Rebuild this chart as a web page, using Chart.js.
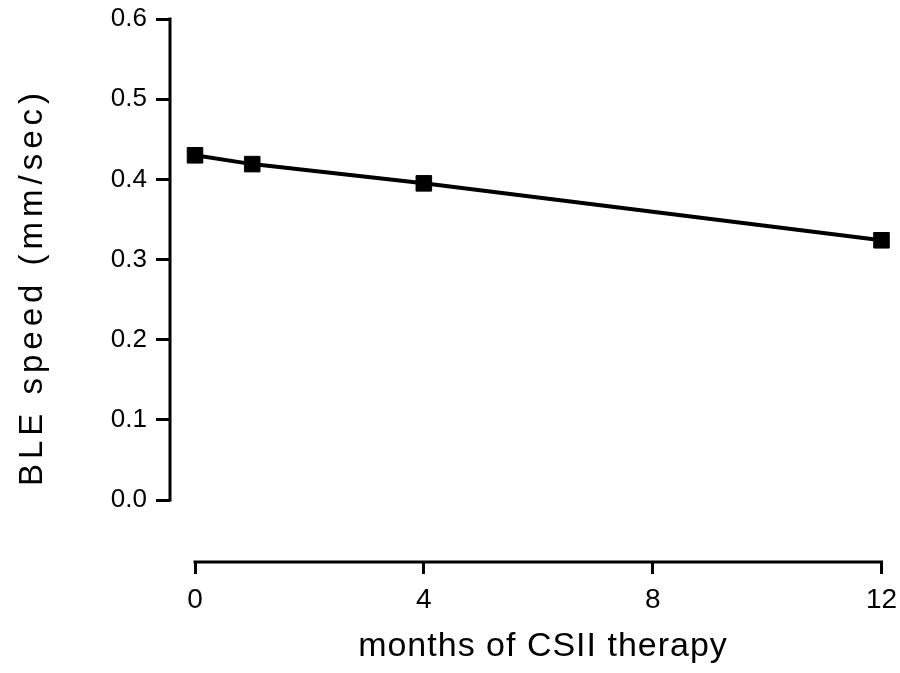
<!DOCTYPE html>
<html>
<head>
<meta charset="utf-8">
<script src="https://cdn.jsdelivr.net/npm/chart.js@4/dist/chart.umd.min.js"></script>
<style>
  html, body { margin: 0; padding: 0; background: #fff; }
  #chartContainer { width: 900px; height: 673px; position: relative; }
</style>
</head>
<body>
<div id="chartContainer"><canvas id="chart"></canvas></div>
<script>
// data
const months = [0, 1, 4, 12]
const bleSpeed = [0.430, 0.419, 0.395, 0.324]
const xTicks = [0, 4, 8, 12]
const yTicks = [0.0, 0.1, 0.2, 0.3, 0.4, 0.5, 0.6]
const xTitle = 'months of CSII therapy'
const yTitle = 'BLE speed (mm/sec)'

const fontFamily = "'Liberation Sans', Arial, Helvetica, sans-serif"
const chartCanvas = document.getElementById('chart').getContext('2d')

// axis lines only span the tick range, and titles drawn with some letter spacing
const axisPlugin = {
  id: 'axisLines',
  afterDraw(chart) {
    const ctx = chart.ctx
    const x = chart.scales.x
    const y = chart.scales.y
    const area = chart.chartArea
    ctx.save()
    ctx.strokeStyle = '#000'
    ctx.lineWidth = 3
    ctx.lineCap = 'butt'
    ctx.beginPath()
    ctx.moveTo(area.left, y.getPixelForValue(yTicks[0]) + 1.5)
    ctx.lineTo(area.left, y.getPixelForValue(yTicks[yTicks.length - 1]) - 1.5)
    ctx.stroke()
    ctx.beginPath()
    ctx.moveTo(x.getPixelForValue(xTicks[0]) - 1.5, area.bottom)
    ctx.lineTo(x.getPixelForValue(xTicks[xTicks.length - 1]) + 1.5, area.bottom)
    ctx.stroke()

    ctx.fillStyle = '#000'
    ctx.textAlign = 'center'
    ctx.textBaseline = 'middle'
    ctx.font = '34px ' + fontFamily
    ctx.letterSpacing = '1px'
    ctx.fillText(xTitle, 543, 647)
    ctx.translate(33, 287)
    ctx.rotate(-Math.PI / 2)
    ctx.font = '33px ' + fontFamily
    ctx.letterSpacing = '5px'
    ctx.fillText(yTitle, 0, 0)
    ctx.restore()
  }
}

const chart = new Chart(chartCanvas, {
  type: 'line',
  data: {
    datasets: [{
      label: yTitle,
      data: months.map((m, i) => ({ x: m, y: bleSpeed[i] })),
      borderColor: '#000',
      backgroundColor: '#000',
      borderWidth: 4,
      pointStyle: 'rect',
      pointRadius: 11,
      pointBorderWidth: 1,
      pointBackgroundColor: '#000',
      pointBorderColor: '#000',
      tension: 0,
      clip: false
    }]
  },
  options: {
    responsive: true,
    maintainAspectRatio: false,
    animation: false,
    layout: { padding: { top: 19, right: 18.5, left: 0, bottom: 0 } },
    plugins: {
      legend: { display: false },
      tooltip: { enabled: false }
    },
    scales: {
      x: {
        type: 'linear',
        min: -0.437,
        max: 12,
        afterBuildTicks: (scale) => { scale.ticks = xTicks.map(v => ({ value: v })) },
        afterFit: (scale) => {
          scale.height = 111
          scale.paddingLeft = 0
          scale.paddingRight = 0
        },
        border: { display: false },
        grid: { drawOnChartArea: false, drawTicks: true, tickLength: 12, color: '#000', lineWidth: 3 },
        ticks: { color: '#000', padding: 9, maxRotation: 0, font: { family: fontFamily, size: 28 } }
      },
      y: {
        type: 'linear',
        min: -0.0773,
        max: 0.6,
        afterBuildTicks: (scale) => { scale.ticks = yTicks.map(v => ({ value: v })) },
        afterFit: (scale) => {
          scale.width = 170
          scale.paddingTop = 0
          scale.paddingBottom = 0
        },
        border: { display: false },
        grid: { drawOnChartArea: false, drawTicks: true, tickLength: 14, color: '#000', lineWidth: 3 },
        ticks: {
          color: '#000', padding: 9,
          font: { family: fontFamily, size: 26 },
          callback: (v) => v.toFixed(1)
        }
      }
    }
  },
  plugins: [axisPlugin]
})
</script>
</body>
</html>
